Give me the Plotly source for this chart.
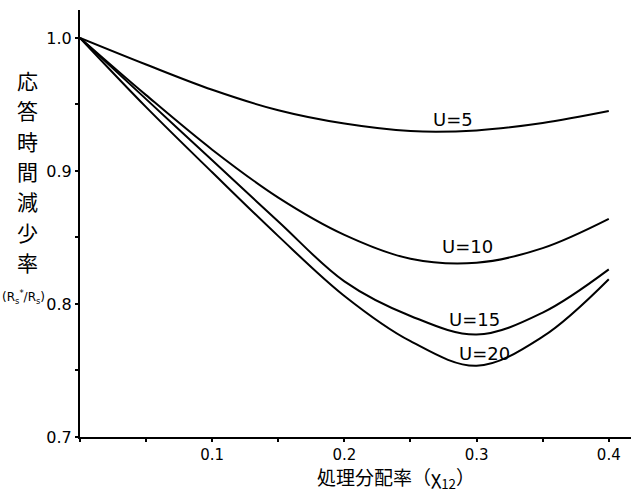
import plotly.graph_objects as go

# Data
x_vals = [0.0, 0.05, 0.10, 0.15, 0.20, 0.25, 0.30, 0.35, 0.40]
u5 = [1.000, 0.980, 0.961, 0.9456, 0.9356, 0.930, 0.9305, 0.936, 0.945]
u10 = [1.000, 0.957, 0.916, 0.880, 0.852, 0.834, 0.831, 0.842, 0.864]
u15 = [1.000, 0.954, 0.908, 0.862, 0.817, 0.791, 0.777, 0.7935, 0.826]
u20 = [1.000, 0.948, 0.899, 0.851, 0.806, 0.772, 0.7535, 0.7754, 0.8186]

series_names = ["U=5", "U=10", "U=15", "U=20"]
series_vals = [u5, u10, u15, u20]
label_pos = [(0.2818, 0.939), (0.293, 0.843), (0.2984, 0.7887), (0.306, 0.7624)]

x_ticks = [0.1, 0.2, 0.3, 0.4]
x_ticklabels = ["0.1", "0.2", "0.3", "0.4"]
y_ticks = [0.7, 0.8, 0.9, 1.0]
y_ticklabels = ["0.7", "0.8", "0.9", "1.0"]

y_title = "応答時間減少率"
y_unit = "(R<sub>s</sub><sup>*</sup>/R<sub>s</sub>)"
x_title = "処理分配率（χ<sub>12</sub>）"

CJK = "Noto Sans CJK JP"
W, H = 631, 493
ML, MR, MT, MB = 80, 0, 10, 56
PW, PH = W - ML - MR, H - MT - MB


def px_to_paper(px, py):
    return (px - ML) / PW, (H - MB - py) / PH


fig = go.Figure()
for name, vals in zip(series_names, series_vals):
    fig.add_trace(go.Scatter(
        x=x_vals, y=vals, mode="lines", name=name,
        line=dict(color="black", width=2, shape="spline", smoothing=1.0),
        showlegend=False, hoverinfo="skip",
    ))

for name, (lx, ly) in zip(series_names, label_pos):
    fig.add_annotation(x=lx, y=ly, xref="x", yref="y", text=name,
                       xanchor="center", yanchor="middle",
                       showarrow=False, font=dict(size=18, color="black", family="DejaVu Sans"))

# Y-axis title: vertical stacked characters
for i, ch in enumerate(y_title):
    ax, ay = px_to_paper(27, 80 + 30.3 * i)
    fig.add_annotation(x=ax, y=ay, xref="paper", yref="paper",
                       xanchor="center", yanchor="middle",
                       text=ch, showarrow=False,
                       font=dict(size=21, color="black", family=CJK))
ux, uy = px_to_paper(23, 297)
fig.add_annotation(x=ux, y=uy, xref="paper", yref="paper",
                   xanchor="center", yanchor="middle",
                   text=y_unit, showarrow=False,
                   font=dict(size=12, color="black", family="DejaVu Sans"))
# X-axis title
tx, ty = px_to_paper(396, 478)
fig.add_annotation(x=tx, y=ty, xref="paper", yref="paper",
                   xanchor="center", yanchor="middle",
                   text=x_title, showarrow=False,
                   font=dict(size=19, color="black", family=CJK))

fig.update_layout(
    width=W, height=H,
    margin=dict(l=ML, r=MR, t=MT, b=MB),
    paper_bgcolor="white", plot_bgcolor="white",
    font=dict(family="DejaVu Sans", color="black"),
)
fig.update_xaxes(
    range=[0, 0.4168], showgrid=False, zeroline=False,
    showline=True, linecolor="black", linewidth=2,
    tickmode="array", tickvals=x_ticks, ticktext=x_ticklabels,
    ticks="outside", ticklen=3, tickwidth=2, tickcolor="black",
    tickfont=dict(size=15, color="black"), ticklabelstandoff=0,
    minor=dict(dtick=0.05, tick0=0, ticks="outside", ticklen=3, tickwidth=2, tickcolor="black"),
)
fig.update_yaxes(
    range=[0.7, 1.021], showgrid=False, zeroline=False,
    showline=True, linecolor="black", linewidth=2,
    tickmode="array", tickvals=y_ticks, ticktext=y_ticklabels,
    ticks="outside", ticklen=3, tickwidth=2, tickcolor="black",
    tickfont=dict(size=16, color="black"), ticklabelstandoff=0,
    minor=dict(dtick=0.05, tick0=0.7, ticks="outside", ticklen=3, tickwidth=2, tickcolor="black"),
)

fig.write_html("out.html")
